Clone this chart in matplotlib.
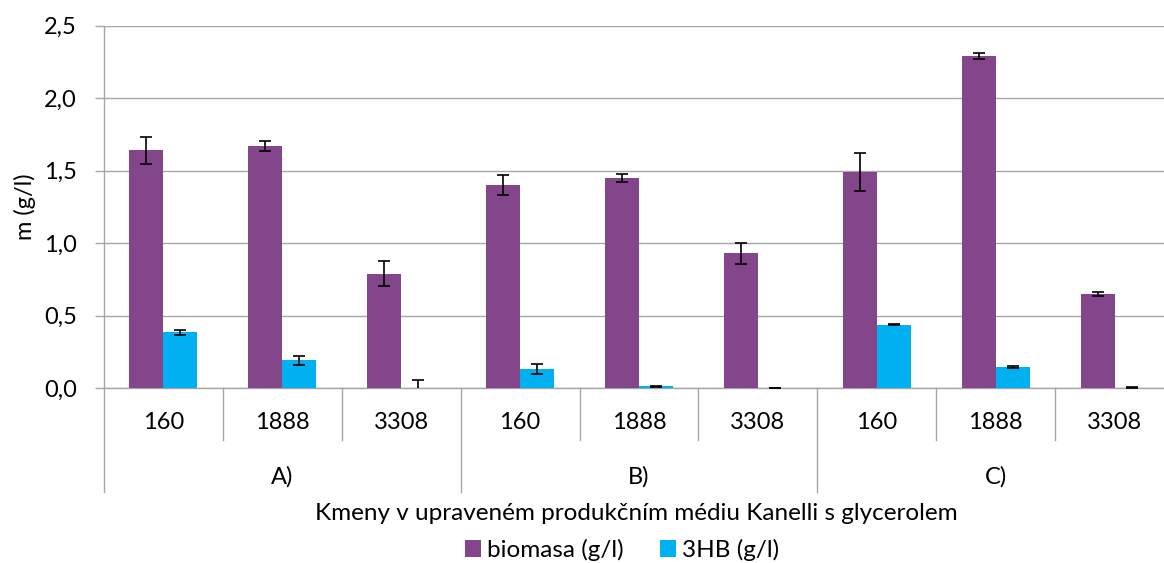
import matplotlib
matplotlib.use('agg')
import matplotlib.pyplot as plt
import matplotlib.transforms as mtransforms
from matplotlib.ticker import FuncFormatter
import numpy as np

groups = ['A)', 'B)', 'C)']
strains = ['160', '1888', '3308']

biomasa = [1.64, 1.67, 0.79, 1.40, 1.45, 0.93, 1.49, 2.29, 0.65]
biomasa_err = [0.094, 0.036, 0.085, 0.07, 0.03, 0.072, 0.13, 0.02, 0.015]
hb = [0.386, 0.193, 0.003, 0.135, 0.014, 0.002, 0.439, 0.147, 0.005]
hb_err = [0.019, 0.033, 0.057, 0.035, 0.003, 0.001, 0.003, 0.006, 0.002]

purple = '#84468A'
blue = '#00B0F0'
grid_col = '#A6A6A6'
fs = 17

plt.rcParams['font.family'] = ['Lato', 'DejaVu Sans']

fig = plt.figure(figsize=(11.64, 5.63), dpi=100)
ax = fig.add_axes([104 / 1164, 1 - 388.3 / 563, 1070 / 1164, 362.6 / 563])

x = np.arange(len(biomasa))
w = 0.286

ax.bar(x - w / 2, biomasa, w, color=purple, label='biomasa (g/l)', zorder=3)
ax.bar(x + w / 2, hb, w, color=blue, label='3HB (g/l)', zorder=3)
ax.errorbar(x - w / 2, biomasa, yerr=biomasa_err, fmt='none', ecolor='black',
            elinewidth=1.2, capsize=4.5, capthick=1.2, zorder=4)
ax.errorbar(x + w / 2, hb, yerr=hb_err, fmt='none', ecolor='black',
            elinewidth=1.2, capsize=4.5, capthick=1.2, zorder=4)

ax.set_xlim(-0.5, len(biomasa) - 0.5)
ax.set_ylim(0, 2.5)
ax.set_yticks(np.arange(0, 2.51, 0.5))
ax.yaxis.set_major_formatter(FuncFormatter(lambda v, p: f"{v:.1f}".replace('.', ',')))
ax.yaxis.grid(True, color=grid_col, linewidth=1, zorder=0)
ax.tick_params(axis='y', length=6.5, color=grid_col, width=1, pad=13, labelsize=fs)
ax.set_xticks([])

for s in ['top', 'right']:
    ax.spines[s].set_visible(False)
for s in ['left', 'bottom']:
    ax.spines[s].set_color(grid_col)
    ax.spines[s].set_linewidth(1)

ax.set_ylabel('m (g/l)', fontsize=fs, labelpad=6)

# two-level category axis
trans = mtransforms.blended_transform_factory(ax.transData, ax.transAxes)
for i in range(len(biomasa) + 1):
    b = i - 0.5
    depth = -0.287 if i % 3 == 0 else -0.1434
    ax.plot([b, b], [0, depth], color=grid_col, lw=1, transform=trans, clip_on=False)

for i in range(len(biomasa)):
    ax.text(i, -0.095, strains[i % 3], transform=trans, ha='center', va='center', fontsize=fs)

for g, name in enumerate(groups):
    ax.text(g * 3 + 1, -0.245, name, transform=trans, ha='center', va='center', fontsize=fs)

fig.text(636 / 1164, 1 - 513 / 563, 'Kmeny v upraveném produkčním médiu Kanelli s glycerolem',
         ha='center', va='center', fontsize=17.5)

fig.legend(loc='center', bbox_to_anchor=(622 / 1164, 1 - 550 / 563), ncol=2, frameon=False,
           fontsize=17.5, handlelength=0.64, handleheight=0.64, handletextpad=0.25,
           columnspacing=1.5, borderpad=0)

fig.savefig('out.png', dpi=100)
plt.close(fig)
